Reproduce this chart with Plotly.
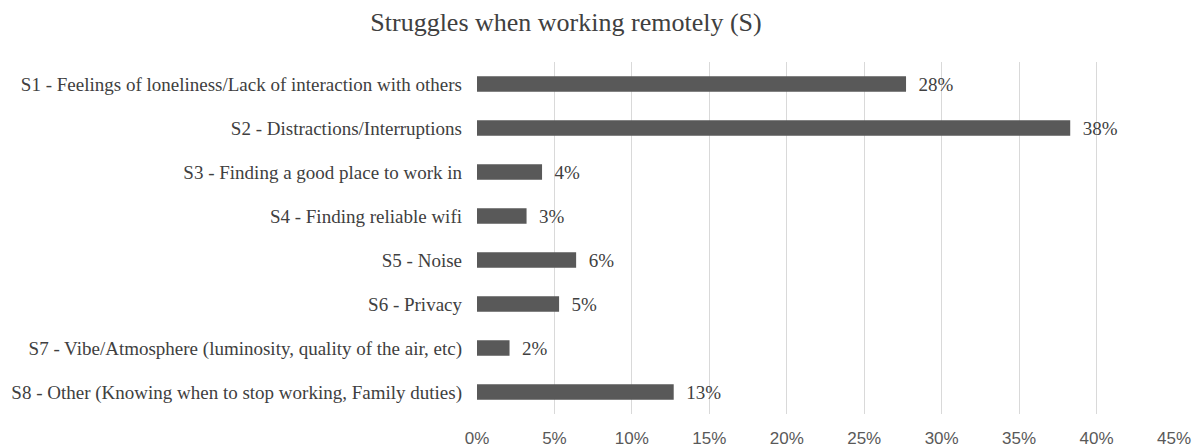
import plotly.graph_objects as go

# Survey answers: share of respondents naming each struggle
categories = [
    "S1 - Feelings of loneliness/Lack of interaction with others",
    "S2 - Distractions/Interruptions",
    "S3 - Finding a good place to work in",
    "S4 - Finding reliable wifi",
    "S5 - Noise",
    "S6 - Privacy",
    "S7 - Vibe/Atmosphere (luminosity, quality of the air, etc)",
    "S8 - Other (Knowing when to stop working, Family duties)",
]
shares = [0.277, 0.383, 0.042, 0.032, 0.064, 0.053, 0.021, 0.127]
x_ticks = [0, 0.05, 0.10, 0.15, 0.20, 0.25, 0.30, 0.35, 0.40, 0.45]

SERIF = "Liberation Serif, Times New Roman, serif"
SANS = "Liberation Sans, Arial, sans-serif"

fig = go.Figure(
    go.Bar(
        x=shares,
        y=categories,
        orientation="h",
        marker=dict(color="#595959", line=dict(width=0)),
        width=0.35,
        texttemplate="  %{x:.0%}",
        textposition="outside",
        constraintext="none",
        cliponaxis=False,
        textfont=dict(family=SERIF, size=19, color="#404040"),
        hoverinfo="skip",
    )
)

fig.update_layout(
    width=1196,
    height=447,
    margin=dict(l=477, r=22, t=62, b=33),
    paper_bgcolor="white",
    plot_bgcolor="white",
    showlegend=False,
    title=dict(
        text="Struggles when working remotely (S)",
        font=dict(family=SERIF, size=26, color="#404040"),
        x=566 / 1196,
        xanchor="center",
        xref="container",
        y=0.95,
        yanchor="middle",
        yref="container",
    ),
)

fig.update_xaxes(
    range=[0, 0.45],
    tickvals=x_ticks,
    tickformat=".0%",
    showgrid=True,
    gridcolor="#d9d9d9",
    gridwidth=1,
    zeroline=False,
    showline=False,
    ticks="",
    automargin=False,
    ticklabelstandoff=12,
    tickfont=dict(family=SANS, size=17, color="#595959"),
)

fig.update_yaxes(
    autorange="reversed",
    showgrid=False,
    zeroline=False,
    showline=False,
    ticks="",
    automargin=False,
    ticklabelstandoff=14,
    tickfont=dict(family=SERIF, size=19, color="#404040"),
)

fig.write_html("out.html")
